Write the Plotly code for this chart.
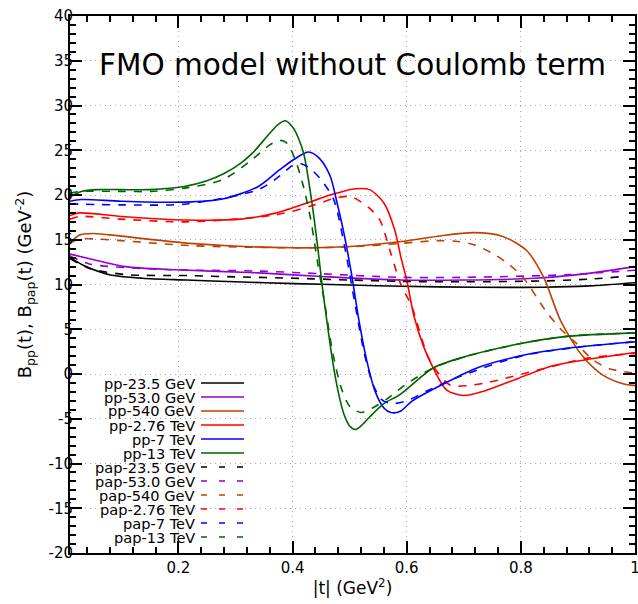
import plotly.graph_objects as go

# ---------------- data ----------------
pp235_x = [0.01, 0.038, 0.079, 0.137, 0.214, 0.30, 0.403, 0.50, 0.59, 0.72, 0.84, 0.92, 1.0]
pp235_y = [13.0, 12.0, 11.1, 10.7, 10.5, 10.3, 10.1, 9.95, 9.8, 9.7, 9.7, 9.85, 10.2]
pap235_x = [0.01, 0.044, 0.108, 0.214, 0.30, 0.403, 0.50, 0.59, 0.70, 0.84, 0.92, 1.0]
pap235_y = [12.9, 11.8, 11.1, 11.0, 10.85, 10.7, 10.5, 10.35, 10.3, 10.4, 10.6, 11.0]

pp53_x = [0.01, 0.05, 0.107, 0.195, 0.34, 0.45, 0.588, 0.70, 0.825, 0.90, 1.0]
pp53_y = [13.4, 12.8, 12.0, 11.65, 11.3, 10.9, 10.5, 10.5, 10.7, 11.1, 12.0]
pap53_x = [0.01, 0.044, 0.167, 0.34, 0.45, 0.588, 0.70, 0.884, 1.0]
pap53_y = [13.2, 12.3, 11.7, 11.5, 11.2, 10.8, 10.8, 11.1, 11.6]

pp540_x = [0.01, 0.026, 0.05, 0.10, 0.22, 0.40, 0.50, 0.59, 0.654, 0.717, 0.767, 0.81, 0.84, 0.87, 0.908, 0.943, 0.979, 1.0]
pp540_y = [14.6, 15.5, 15.7, 15.4, 14.6, 14.1, 14.25, 14.8, 15.4, 15.8, 15.4, 13.8, 10.8, 5.9, 2.0, -0.1, -1.1, -1.3]
pap540_x = [0.01, 0.026, 0.05, 0.10, 0.22, 0.40, 0.50, 0.59, 0.654, 0.69, 0.72, 0.755, 0.78, 0.805, 0.842, 0.87, 0.896, 0.926, 0.955, 1.0]
pap540_y = [14.6, 15.1, 15.1, 14.9, 14.35, 14.1, 14.2, 14.6, 14.9, 14.8, 14.4, 13.3, 12.2, 10.7, 7.2, 5.0, 3.5, 1.6, 0.6, 0.1]

pp276_x = [0.01, 0.026, 0.10, 0.214, 0.309, 0.372, 0.434, 0.466, 0.51, 0.535, 0.56, 0.579, 0.59, 0.60, 0.613, 0.63, 0.647, 0.67, 0.70, 0.736, 0.795, 0.854, 0.914, 1.0]
pp276_y = [17.7, 18.0, 17.6, 17.2, 17.3, 18.0, 19.3, 20.0, 20.7, 20.6, 19.1, 16.1, 13.0, 10.5, 6.4, 3.0, 0.6, -1.8, -2.4, -1.9, -0.5, 0.9, 1.6, 2.4]
pap276_x = [0.01, 0.026, 0.10, 0.214, 0.372, 0.434, 0.478, 0.503, 0.535, 0.553, 0.572, 0.591, 0.608, 0.64, 0.675, 0.706, 0.745, 0.837, 0.919, 1.0]
pap276_y = [17.3, 17.6, 17.3, 17.0, 17.8, 18.8, 19.7, 19.8, 18.5, 17.2, 13.5, 9.8, 7.7, 1.6, -1.2, -1.3, -0.9, 0.55, 1.8, 2.3]

pp7_x = [0.01, 0.03, 0.10, 0.21, 0.277, 0.34, 0.377, 0.403, 0.428, 0.447, 0.466, 0.478, 0.491, 0.504, 0.516, 0.53, 0.545, 0.56, 0.572, 0.588, 0.61, 0.665, 0.724, 0.812, 0.884, 1.0]
pp7_y = [19.3, 19.5, 19.3, 19.2, 19.55, 20.95, 22.8, 24.0, 24.8, 24.1, 22.1, 19.1, 15.4, 10.9, 6.1, 1.5, -2.0, -3.8, -4.3, -4.2, -3.0, -1.1, 0.7, 2.2, 2.9, 3.6]
pap7_x = [0.01, 0.10, 0.214, 0.34, 0.377, 0.40, 0.415, 0.43, 0.45, 0.472, 0.491, 0.51, 0.525, 0.54, 0.555, 0.572, 0.60, 0.635, 0.694, 0.80, 0.90, 1.0]
pap7_y = [19.0, 18.9, 19.0, 20.6, 22.1, 23.3, 23.5, 23.0, 21.7, 19.5, 14.3, 7.6, 2.5, -1.0, -2.8, -3.3, -3.0, -1.9, -0.25, 2.0, 3.0, 3.6]

pp13_x = [0.01, 0.03, 0.06, 0.10, 0.15, 0.21, 0.25, 0.28, 0.31, 0.33, 0.36, 0.375, 0.387, 0.40, 0.41, 0.42, 0.434, 0.444, 0.452, 0.46, 0.47, 0.48, 0.49, 0.50, 0.51, 0.52, 0.535, 0.56, 0.588, 0.647, 0.706, 0.80, 0.88, 1.0]
pp13_y = [19.8, 20.4, 20.6, 20.6, 20.6, 20.95, 21.6, 22.4, 23.6, 24.7, 26.9, 27.9, 28.3, 27.6, 26.4, 24.5, 19.1, 14.2, 9.8, 6.0, 1.5, -2.0, -4.5, -5.8, -6.2, -5.8, -4.8, -3.3, -2.3, 0.7, 2.0, 3.4, 4.2, 4.6]
pap13_x = [0.01, 0.03, 0.10, 0.152, 0.214, 0.277, 0.328, 0.36, 0.378, 0.39, 0.405, 0.419, 0.432, 0.444, 0.457, 0.47, 0.485, 0.50, 0.52, 0.54, 0.565, 0.60, 0.647, 0.706, 0.80, 0.88, 1.0]
pap13_y = [20.2, 20.4, 20.4, 20.4, 20.8, 21.7, 23.9, 25.6, 26.1, 25.8, 23.9, 20.95, 17.2, 12.4, 7.6, 2.5, -1.5, -3.6, -4.3, -3.8, -2.8, -1.1, 0.7, 2.0, 3.4, 4.2, 4.6]

series_names = ["pp-23.5 GeV", "pp-53.0 GeV", "pp-540 GeV", "pp-2.76 TeV", "pp-7 TeV", "pp-13 TeV",
                "pap-23.5 GeV", "pap-53.0 GeV", "pap-540 GeV", "pap-2.76 TeV", "pap-7 TeV", "pap-13 TeV"]
series_x = [pp235_x, pp53_x, pp540_x, pp276_x, pp7_x, pp13_x,
            pap235_x, pap53_x, pap540_x, pap276_x, pap7_x, pap13_x]
series_y = [pp235_y, pp53_y, pp540_y, pp276_y, pp7_y, pp13_y,
            pap235_y, pap53_y, pap540_y, pap276_y, pap7_y, pap13_y]

x_tickvals = [0.2, 0.4, 0.6, 0.8, 1.0]
x_ticktext = ["0.2", "0.4", "0.6", "0.8", "1"]
y_tickvals = [-20, -15, -10, -5, 0, 5, 10, 15, 20, 25, 30, 35, 40]
y_ticktext = ["-20", "-15", "-10", "-5", "0", "5", "10", "15", "20", "25", "30", "35", "40"]

# ---------------- styles ----------------
colors = ["#000000", "#9400d3", "#c04000", "#ff0000", "#0000ff", "#006400"] * 2
dashes = ["solid"] * 6 + ["8px,8px"] * 6
FONT = "DejaVu Sans"

fig = go.Figure()
for name, xs, ys, c, d in zip(series_names, series_x, series_y, colors, dashes):
    fig.add_trace(go.Scatter(x=xs, y=ys, mode="lines", name=name, showlegend=False,
                             line=dict(color=c, width=1.6, dash=d, shape="spline", smoothing=0.8)))

# manual legend (text right-aligned, sample line to the right)
L, R, T, B = 70, 3, 16, 51
W = 638 - L - R
H = 604 - T - B
row0 = 383
for i, (name, c, d) in enumerate(zip(series_names, colors, dashes)):
    py = row0 + 14 * i
    yp = (604 - B - py) / H
    fig.add_annotation(x=(197 - L) / W, y=yp, xref="paper", yref="paper", text=name,
                       showarrow=False, xanchor="right", yanchor="middle",
                       font=dict(family=FONT, size=14.6, color="#000"))
    fig.add_shape(type="line", xref="paper", yref="paper", x0=(201 - L) / W, x1=(244 - L) / W,
                  y0=yp, y1=yp, line=dict(color=c, width=1.6, dash="solid" if d == "solid" else "6px,12px"))

fig.add_annotation(x=0.5, y=(604 - B - 65) / H, xref="paper", yref="paper",
                   text="FMO model without Coulomb term", showarrow=False,
                   xanchor="center", yanchor="middle", font=dict(family=FONT, size=29.5, color="#000"))

axis_common = dict(showline=True, linecolor="#000", linewidth=2, mirror="allticks",
                   ticks="inside", ticklen=12, tickwidth=2, tickcolor="#000",
                   showgrid=True, gridcolor="#a8a8a8", griddash="1px,4px", gridwidth=1,
                   zeroline=False, automargin=False, ticklabeloverflow="allow",
                   tickfont=dict(family=FONT, size=15, color="#000"))

fig.update_layout(
    width=638, height=604, margin=dict(l=L, r=R, t=T, b=B),
    plot_bgcolor="white", paper_bgcolor="white", showlegend=False,
    font=dict(family=FONT, color="#000"),
    xaxis=dict(range=[0.01, 1.0], tickvals=x_tickvals, ticktext=x_ticktext,
               title=dict(text="|t| (GeV<sup>2</sup>)", font=dict(family=FONT, size=17), standoff=6),
               minor=dict(ticks="inside", dtick=0.04, tick0=0, ticklen=6, tickwidth=2, tickcolor="#000", showgrid=False),
               **axis_common),
    yaxis=dict(range=[-20, 40], tickvals=y_tickvals, ticktext=y_ticktext, ticklabelstandoff=-8,
               title=dict(text="B<sub>pp</sub>(t), B<sub>pap</sub>(t) (GeV<sup>-2</sup>)", font=dict(family=FONT, size=18), standoff=12),
               minor=dict(ticks="inside", dtick=1, tick0=0, ticklen=6, tickwidth=2, tickcolor="#000", showgrid=False),
               **axis_common),
)

fig.write_html("out.html")
